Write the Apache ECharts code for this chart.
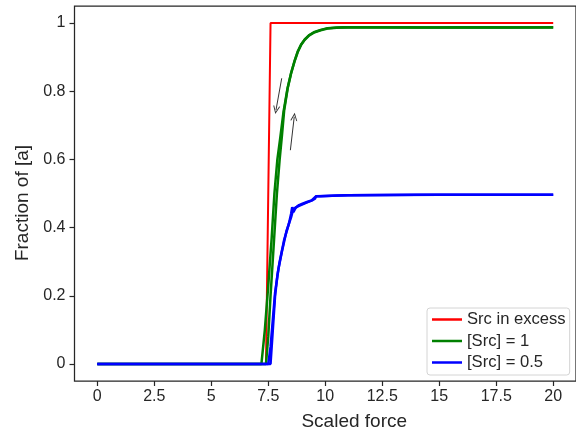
<!DOCTYPE html>
<html>
<head>
<meta charset="utf-8">
<script src="https://cdn.jsdelivr.net/npm/echarts@6/dist/echarts.min.js"></script>
<style>
html,body{margin:0;padding:0;background:#fff;}
#chart{width:576px;height:437px;}
</style>
</head>
<body>
<div id="chart"></div>
<script>
// ---- data ----
var seriesNames = ['Src in excess', '[Src] = 1', '[Src] = 0.5'];
var xTicks = [0, 2.5, 5, 7.5, 10, 12.5, 15, 17.5, 20];
var yTicks = [0, 0.2, 0.4, 0.6, 0.8, 1];

var redExcess = [[0,0],[7.4,0],[7.6,1],[20,1]];

var greenA = [[0,0],[7.2,0],[7.35,0.1],[7.5,0.23],[7.65,0.37],[7.77,0.5],[7.9,0.6],[8.03,0.665],
  [8.17,0.74],[8.35,0.81],[8.5,0.853],[8.65,0.888],[8.8,0.918],[8.95,0.938],[9.1,0.952],[9.3,0.965],
  [9.5,0.973],[9.8,0.98],[10.1,0.985],[10.5,0.987],[10.8,0.988],[12,0.987],[13.5,0.988],[15,0.987],
  [17,0.988],[20,0.987]];
var greenB = [[0,0],[7.4,0],[7.5,0.08],[7.6,0.2],[7.75,0.36],[7.88,0.5],[8.0,0.6],[8.1,0.67],
  [8.2,0.745],[8.35,0.808],[8.5,0.852],[8.65,0.887],[8.8,0.916],[8.95,0.937],[9.1,0.951],[9.3,0.964],
  [9.5,0.972],[9.8,0.979],[10.1,0.984],[10.5,0.986],[11,0.988],[12.5,0.988],[14,0.987],[16,0.988],
  [18,0.987],[20,0.988]];

var blueA = [[0,0],[7.6,0],[7.7,0.1],[7.8,0.2],[7.9,0.26],[8.0,0.3],[8.2,0.365],[8.4,0.41],
  [8.5,0.44],[8.55,0.46],[8.6,0.445],[8.7,0.458],[8.85,0.466],[9.0,0.47],[9.2,0.475],[9.4,0.48],
  [9.6,0.492],[9.8,0.492],[10.5,0.494],[11,0.495],[14,0.496],[17,0.496],[20,0.496]];
var blueB = [[0,0],[7.5,0],[7.6,0.05],[7.7,0.13],[7.8,0.21],[7.95,0.28],[8.1,0.33],[8.3,0.39],
  [8.5,0.43],[8.6,0.455],[8.65,0.45],[8.8,0.462],[9.0,0.468],[9.2,0.474],[9.4,0.479],[9.55,0.485],
  [9.6,0.492],[10,0.493],[11,0.495],[15,0.496],[20,0.496]];

// annotation arrows: [tail, head] in data coordinates
var arrowDown = [[8.09,0.838],[7.84,0.745]];
var arrowUp = [[8.47,0.627],[8.64,0.725]];

// ---- chart ----
var FONT = "'Liberation Sans', Arial, sans-serif";
var TXT = '#262626';
var chevron = 'path://M0,10 L5,0 L10,10 L8.6,10 L5,2.8 L1.4,10 Z';

function lineSeries(name, data, color, width, z) {
  return {
    name: name, type: 'line', data: data, showSymbol: false, symbol: 'none',
    z: z, lineStyle: {color: color, width: width}, itemStyle: {color: color},
    emphasis: {disabled: true}
  };
}

var chart = echarts.init(document.getElementById('chart'), null, {renderer: 'canvas'});
chart.setOption({
  animation: false,
  backgroundColor: '#fff',
  textStyle: {fontFamily: FONT},
  grid: {left: 74.5, top: 6, width: 502.5, bottom: 56, show: true,
    borderColor: TXT, borderWidth: 1.25, containLabel: false},
  xAxis: {
    type: 'value', min: -1, max: 21,
    name: 'Scaled force', nameLocation: 'middle', nameGap: 31,
    nameTextStyle: {fontSize: 19, color: TXT, fontFamily: FONT, padding: [0, 0, 0, 58]},
    axisLine: {show: false, onZero: false},
    axisTick: {show: true, length: 5, customValues: xTicks, lineStyle: {color: TXT, width: 1.2}},
    axisLabel: {customValues: xTicks, fontSize: 16, color: TXT, fontFamily: FONT, margin: 8},
    splitLine: {show: false}
  },
  yAxis: {
    type: 'value', min: -0.05, max: 1.05,
    name: 'Fraction of [a]', nameLocation: 'middle', nameGap: 42,
    nameTextStyle: {fontSize: 19, color: TXT, fontFamily: FONT, padding: [0, 19, 0, 0]},
    axisLine: {show: false, onZero: false},
    axisTick: {show: true, length: 5, customValues: yTicks, lineStyle: {color: TXT, width: 1.2}},
    axisLabel: {customValues: yTicks, fontSize: 16, color: TXT, fontFamily: FONT, margin: 9},
    splitLine: {show: false}
  },
  legend: {
    data: seriesNames, orient: 'vertical', left: 427, top: 308,
    icon: 'rect', itemWidth: 30, itemHeight: 2.5, itemGap: 4.5,
    padding: [3, 4, 4, 5],
    backgroundColor: 'rgba(255,255,255,0.85)', borderColor: '#d4d4d4', borderWidth: 1, borderRadius: 3,
    textStyle: {fontSize: 16.6, color: TXT, fontFamily: FONT, lineHeight: 16},
    selectedMode: false
  },
  series: [
    lineSeries(seriesNames[0], redExcess, '#ff0000', 2, 2),
    lineSeries(seriesNames[1], greenA, '#008000', 2.5, 3),
    lineSeries(seriesNames[1], greenB, '#008000', 2.5, 3),
    lineSeries(seriesNames[2], blueA, '#0000ff', 2.5, 4),
    lineSeries(seriesNames[2], blueB, '#0000ff', 2.5, 4),
    {
      name: 'annotations', type: 'line', data: [], z: 5,
      markLine: {
        silent: true, animation: false,
        symbol: ['none', chevron], symbolSize: [7, 8],
        label: {show: false},
        lineStyle: {color: '#333', width: 1, type: 'solid'},
        emphasis: {disabled: true},
        data: [
          [{coord: arrowDown[0]}, {coord: arrowDown[1]}],
          [{coord: arrowUp[0]}, {coord: arrowUp[1]}]
        ]
      }
    }
  ]
});
</script>
</body>
</html>
